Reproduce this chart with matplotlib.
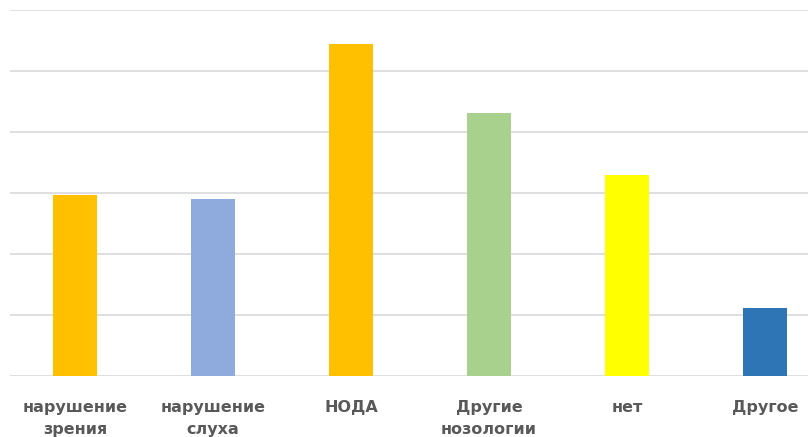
import numpy as np
import matplotlib.pyplot as plt

# categories and values
categories = ['нарушение\nзрения', 'нарушение\nслуха', 'НОДА',
              'Другие\nнозологии', 'нет', 'Другое']
values = [29.6, 29.0, 54.4, 43.0, 32.9, 11.1]
bar_colors = ['#FFC000', '#8FAADC', '#FFC000', '#A9D18E', '#FFFF00', '#2E75B6']

fig = plt.figure(figsize=(8.08, 4.37), dpi=100)
ax = fig.add_axes([10 / 808, 61 / 437, 798 / 808, (376 - 9.5) / 437])

x = np.arange(len(categories))
ax.bar(x, values, width=0.315, color=bar_colors, zorder=3)

ax.set_ylim(0, 60)
ax.set_xlim(-0.471, 5.312)
ax.set_yticks(np.arange(0, 61, 10))
ax.yaxis.grid(True, color='#d9d9d9', linewidth=1.2, zorder=0)
ax.set_yticklabels([])
ax.tick_params(axis='both', length=0)
ax.set_xticks(x)
ax.set_xticklabels(categories, fontsize=11.5, fontweight='bold', color='#595959',
                   linespacing=1.6)
ax.tick_params(axis='x', pad=17)
for s in ax.spines.values():
    s.set_visible(False)

fig.savefig('out.png', dpi=100)
